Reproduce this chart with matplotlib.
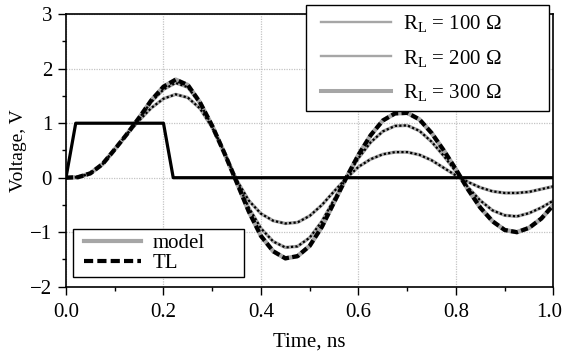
import matplotlib
matplotlib.use("Agg")
import matplotlib.pyplot as plt
from matplotlib.lines import Line2D
from matplotlib.legend_handler import HandlerLine2D
import matplotlib.transforms as mtransforms
import numpy as np

plt.rcParams['font.family'] = ['Liberation Serif', 'DejaVu Serif']
plt.rcParams['mathtext.fontset'] = 'custom'
plt.rcParams['mathtext.rm'] = 'Liberation Serif'
plt.rcParams['mathtext.it'] = 'Liberation Serif:italic'
FS = 15
plt.rcParams['font.size'] = FS

# ---- data ----
time_ns = [0.0, 0.025, 0.05, 0.075, 0.1, 0.125, 0.15, 0.175, 0.2, 0.225,
           0.25, 0.275, 0.3, 0.325, 0.35, 0.375, 0.4, 0.425, 0.45, 0.475,
           0.5, 0.525, 0.55, 0.575, 0.6, 0.625, 0.65, 0.675, 0.7, 0.725,
           0.75, 0.775, 0.8, 0.825, 0.85, 0.875, 0.9, 0.925, 0.95, 0.975, 1.0]

v_100 = [0.0, 0.01, 0.08, 0.25, 0.52, 0.8, 1.05, 1.28, 1.45, 1.53,
         1.47, 1.27, 0.92, 0.46, -0.04, -0.42, -0.66, -0.79, -0.84, -0.82,
         -0.7, -0.5, -0.25, -0.01, 0.2, 0.34, 0.43, 0.47, 0.47, 0.42,
         0.32, 0.18, 0.04, -0.08, -0.18, -0.25, -0.28, -0.28, -0.26, -0.21, -0.16]

v_200 = [0.0, 0.01, 0.08, 0.25, 0.52, 0.8, 1.09, 1.39, 1.62, 1.74,
         1.66, 1.36, 0.95, 0.46, -0.06, -0.55, -0.93, -1.17, -1.28, -1.26,
         -1.1, -0.8, -0.4, 0.0, 0.36, 0.65, 0.85, 0.95, 0.96, 0.86,
         0.66, 0.4, 0.11, -0.18, -0.42, -0.6, -0.69, -0.71, -0.65, -0.55, -0.42]

v_300 = [0.0, 0.01, 0.08, 0.25, 0.52, 0.8, 1.1, 1.42, 1.67, 1.80,
         1.70, 1.38, 0.95, 0.45, -0.08, -0.62, -1.07, -1.35, -1.48, -1.44,
         -1.25, -0.9, -0.45, 0.0, 0.42, 0.78, 1.05, 1.18, 1.19, 1.07,
         0.82, 0.5, 0.15, -0.22, -0.55, -0.8, -0.96, -1.0, -0.92, -0.75, -0.5]

pulse_t = [0.0, 0.02, 0.2, 0.22, 1.0]
pulse_v = [0.0, 1.0, 1.0, 0.0, 0.0]

rl_labels = [r'$\mathrm{R_L}$ = 100 Ω', r'$\mathrm{R_L}$ = 200 Ω', r'$\mathrm{R_L}$ = 300 Ω']
x_ticks = [0.0, 0.2, 0.4, 0.6, 0.8, 1.0]
y_ticks = [-2, -1, 0, 1, 2, 3]

gray = '#a6a6a6'

fig = plt.figure(figsize=(5.63, 3.56), dpi=100)
ax = fig.add_axes([0.1172, 0.1947, 0.8659, 0.7653])

# model (gray solid)
ax.plot(time_ns, v_100, color=gray, lw=2.4, solid_capstyle='butt', zorder=2)
ax.plot(time_ns, v_200, color=gray, lw=2.4, solid_capstyle='butt', zorder=2)
ax.plot(time_ns, v_300, color=gray, lw=3.2, solid_capstyle='butt', zorder=2)
# TL (black dashed / dotted)
ax.plot(time_ns, v_100, color='black', lw=1.6, linestyle=(0, (1.0, 1.0)), zorder=3)
ax.plot(time_ns, v_200, color='black', lw=1.6, linestyle=(0, (1.0, 1.0)), zorder=3)
ax.plot(time_ns, v_300, color='black', lw=3.0, linestyle=(0, (1.7, 0.8)), zorder=3)
# input pulse
ax.plot(pulse_t, pulse_v, color='black', lw=2.3, zorder=4)

ax.set_xlim(0, 1.0)
ax.set_ylim(-2, 3)
ax.set_xticks(x_ticks)
ax.set_yticks(y_ticks)
ax.set_xticks(np.arange(0, 1.0001, 0.1), minor=True)
ax.set_yticks(np.arange(-2, 3.0001, 0.5), minor=True)
ax.set_xticklabels(['%.1f' % v for v in x_ticks])
ax.set_yticklabels(['\u2212%d' % -v if v < 0 else '%d' % v for v in y_ticks])
ax.tick_params(which='major', direction='out', length=6, width=1.0, labelsize=FS)
ax.tick_params(axis='x', which='major', pad=6)
ax.tick_params(axis='y', which='major', pad=4)
ax.tick_params(which='minor', direction='out', length=3, width=1.0)
ax.tick_params(top=False, right=False, which='both')
ax.grid(True, which='major', color='#c4c4c4', linestyle=(0, (1, 1)), lw=0.9)
ax.set_axisbelow(True)
for s in ax.spines.values():
    s.set_linewidth(1.2)

# keep the last x tick label inside the canvas
last = ax.get_xticklabels()[-1]
last.set_transform(last.get_transform() + mtransforms.ScaledTranslation(-4 / 100, 0, fig.dpi_scale_trans))

ax.set_xlabel('Time, ns', fontsize=FS, labelpad=7)
ax.set_ylabel('Voltage, V', fontsize=14, labelpad=2)

W, H = 563.0, 356.0

# legend 1: R_L
h1 = [Line2D([], [], color=gray, lw=1.7),
      Line2D([], [], color=gray, lw=1.7),
      Line2D([], [], color=gray, lw=2.9)]
hm1 = {h: HandlerLine2D(xpad=0.35) for h in h1}
leg1 = fig.legend(h1, rl_labels, loc='upper left',
                  bbox_to_anchor=(306 / W, 1 - 5 / H, 243 / W, 0), mode='expand',
                  borderaxespad=0, frameon=True, fancybox=False, framealpha=1,
                  edgecolor='black', handlelength=3.7, labelspacing=0.66,
                  handletextpad=0.58, borderpad=0.38, fontsize=FS, handler_map=hm1)
leg1.get_frame().set_linewidth(1.0)

# legend 2: model / TL
h2 = [Line2D([], [], color=gray, lw=3.0),
      Line2D([], [], color='black', lw=3.0, linestyle=(0, (2.2, 1.0)))]
hm2 = {h: HandlerLine2D(xpad=0.35) for h in h2}
leg2 = fig.legend(h2, ['model', 'TL'], loc='lower left',
                  bbox_to_anchor=(72.7 / W, 1 - 277.3 / H, 171.6 / W, 0), mode='expand',
                  borderaxespad=0, frameon=True, fancybox=False, framealpha=1,
                  edgecolor='black', handlelength=3.1, labelspacing=0.02,
                  handletextpad=0.53, borderpad=0.2, fontsize=FS, handler_map=hm2)
leg2.get_frame().set_linewidth(1.0)

fig.savefig('out.png', dpi=100)
